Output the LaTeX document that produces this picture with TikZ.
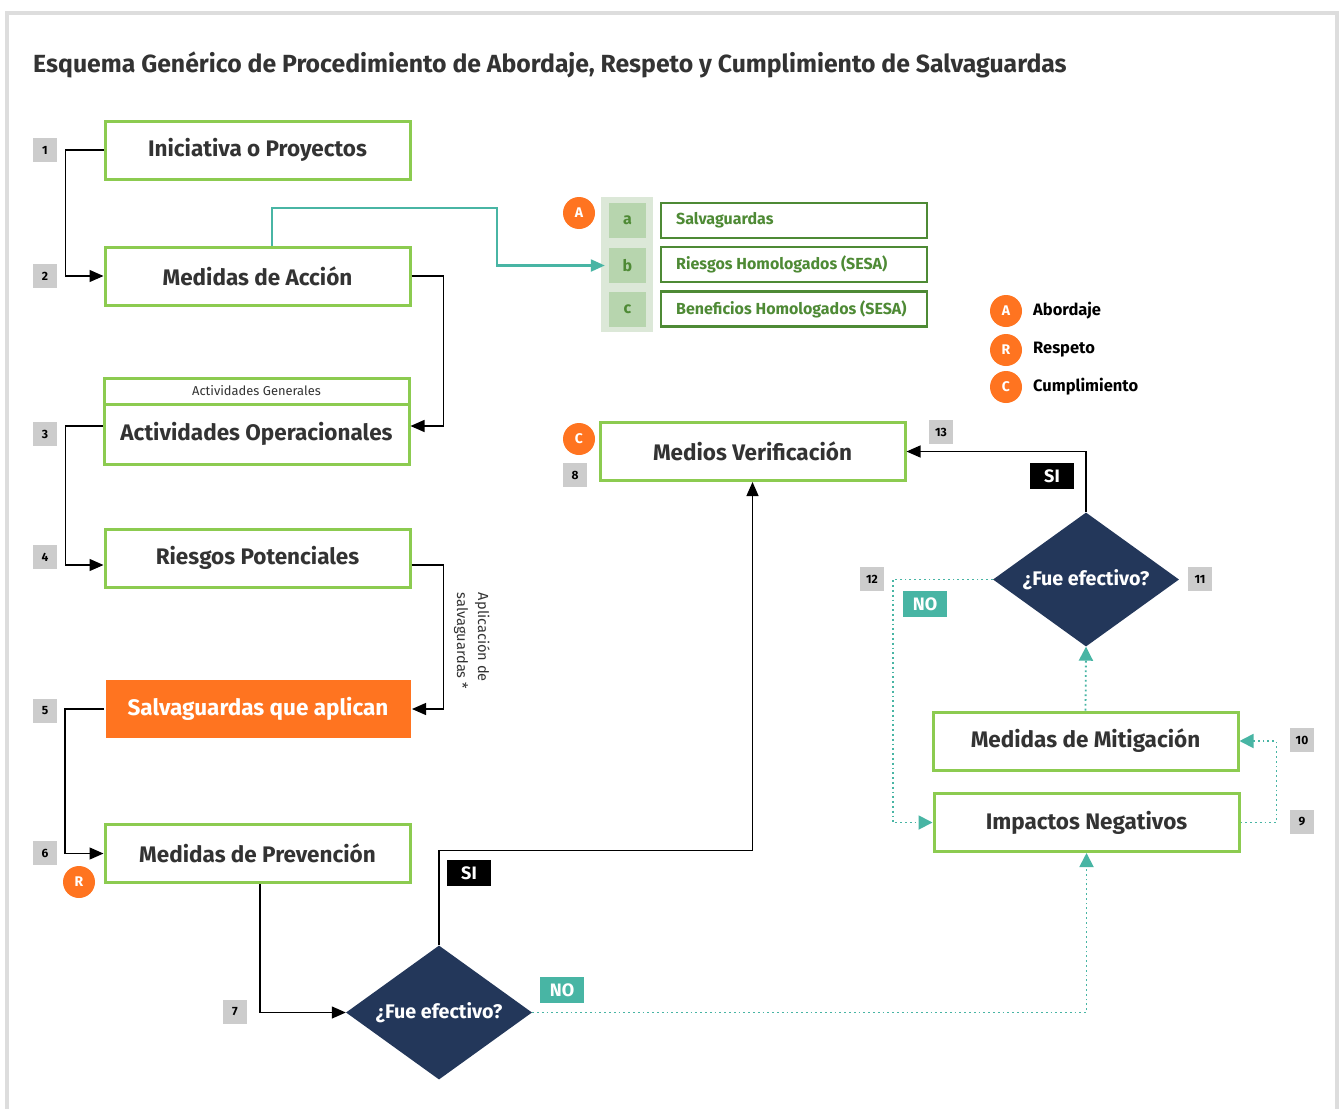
\documentclass[tikz,border=0pt]{standalone}
\usepackage{fontspec}
\setmainfont{Fira Sans}
\usetikzlibrary{arrows.meta,shapes.geometric}
\definecolor{gbox}{HTML}{8CCB50}
\definecolor{dgreen}{HTML}{4E8A35}
\definecolor{panel}{HTML}{DCE8D8}
\definecolor{lsq}{HTML}{B7D5AE}
\definecolor{txt}{HTML}{333333}
\definecolor{orng}{HTML}{FF7420}
\definecolor{navy}{HTML}{23375A}
\definecolor{tealc}{HTML}{48B5A4}
\definecolor{numgray}{HTML}{CCCCCC}
\definecolor{frame}{HTML}{DDDDDD}
\begin{document}
\begin{tikzpicture}[x=1pt,y=-1pt,
  box/.style={draw=gbox,line width=3pt,fill=white,minimum width=305pt,minimum height=58pt,inner sep=0pt,text=txt,font=\fontsize{22.5}{25}\selectfont\bfseries},
  num/.style={fill=numgray,minimum size=24pt,inner sep=0pt,font=\fontsize{12}{13}\selectfont\bfseries},
  circ/.style={circle,fill=orng,minimum size=32pt,inner sep=0pt,text=white,font=\fontsize{14}{14}\selectfont\bfseries},
  dia/.style={diamond,fill=navy,minimum width=186pt,minimum height=134pt,shape aspect=1.39,inner sep=0pt,text=white,font=\fontsize{19.7}{21}\selectfont\bfseries},
  lab/.style={minimum width=44pt,minimum height=26pt,inner sep=0pt,text=white,font=\fontsize{18}{20}\selectfont\bfseries},
  blk/.style={line width=1.3pt,-{Triangle[length=14pt,width=12pt]}},
  tln/.style={draw=tealc,line width=2.2pt,-{Triangle[length=14pt,width=12pt]}},
  dotl/.style={draw=tealc,line width=1.8pt,dash pattern=on 1.8pt off 3pt,-{Triangle[length=14pt,width=14pt]},tealc},
  sqr/.style={fill=lsq,minimum width=37pt,minimum height=35pt,inner sep=0pt,text=dgreen,font=\fontsize{16}{17}\selectfont\bfseries},
  gbx/.style={draw=dgreen,line width=2.5pt,fill=white,minimum width=266pt,minimum height=35pt,inner sep=0pt},
  gtx/.style={anchor=west,inner sep=0pt,text=dgreen,font=\fontsize{16}{17}\selectfont\bfseries},
  leg/.style={anchor=west,inner sep=0pt,font=\fontsize{16.5}{18}\selectfont\bfseries}
]
\useasboundingbox (0,0) rectangle (1340,1108);
\fill[white] (0,0) rectangle (1340,1108);
\draw[frame,line width=4pt] (7,1110) -- (7,13) -- (1337,13) -- (1337,1110);

\node[anchor=base west,inner sep=0pt,text=txt,font=\fontsize{24.8}{28}\selectfont\bfseries] (title) at (33,73) {Esquema Genérico de Procedimiento de Abordaje, Respeto y Cumplimiento de Salvaguardas};

% main boxes
\node[box] (ini) at (257.5,150) {Iniciativa o Proyectos};
\node[box] (acc) at (257.5,276) {Medidas de Acción};
\node[box,minimum height=26pt,font=\fontsize{12.9}{14}\selectfont] (actg) at (256.5,391) {Actividades Generales};
\node[box,minimum height=60pt] (act) at (256.5,434) {\raisebox{5pt}{Actividades Operacionales}};
\node[box] (rie) at (257.5,558) {Riesgos Potenciales};
\node[box,draw=none,fill=orng,text=white] (sal) at (258,709) {Salvaguardas que aplican};
\node[box] (pre) at (257.5,853.5) {Medidas de Prevención};
\node[box] (med) at (752.5,451.5) {Medios Verificación};
\node[box] (mit) at (1085.5,741) {Medidas de Mitigación};
\node[box] (imp) at (1086.5,822.5) {Impactos Negativos};

% diamonds
\node[dia] (d1) at (439,1012.5) {¿Fue efectivo?};
\node[dia] (d2) at (1086,579.5) {¿Fue efectivo?};

% a b c group
\node[fill=panel,minimum width=52pt,minimum height=135pt,inner sep=0pt] (pnl) at (627,264.5) {};
\node[sqr] (la) at (627.5,220.5) {a};
\node[sqr] (lb) at (627.5,265.5) {b};
\node[sqr] (lc) at (627.5,309.5) {c};
\node[gbx] (ga) at (794,220.5) {};
\node[gbx] (gb) at (794,264.5) {};
\node[gbx] (gc) at (794,309) {};
\node[gtx] (ta) at (676,220.5) {Salvaguardas};
\node[gtx] (tb) at (676,264.5) {Riesgos Homologados (SESA)};
\node[gtx] (tc) at (676,309) {Beneficios Homologados (SESA)};

% circles
\node[circ] (cA) at (579,213) {A};
\node[circ] (cR) at (79,882) {R};
\node[circ] (cC) at (579,439) {C};
\node[circ] (lA) at (1006,311) {A};
\node[circ] (lR) at (1006,350) {R};
\node[circ] (lC) at (1006,387) {C};
\node[leg] (tA) at (1033,311) {Abordaje};
\node[leg] (tR) at (1033,350) {Respeto};
\node[leg] (tC) at (1033,387) {Cumplimiento};

% numbers
\node[num] (n1) at (45,150) {1};
\node[num] (n2) at (45,276) {2};
\node[num] (n3) at (45,434) {3};
\node[num] (n4) at (45,557) {4};
\node[num] (n5) at (45,711) {5};
\node[num] (n6) at (45,853) {6};
\node[num] (n7) at (235,1012) {7};
\node[num] (n8) at (575,475) {8};
\node[num] (n9) at (1302,822) {9};
\node[num] (n10) at (1302,740) {10};
\node[num] (n11) at (1200,579) {11};
\node[num] (n12) at (872,579) {12};
\node[num] (n13) at (941,432) {13};

% connectors
\draw[blk] (ini.west) -- ++(-38,0) |- (acc.west);
\draw[blk] (acc.east) -- ++(32,0) |- ([yshift=8pt]act.east);
\draw[blk] ([yshift=8pt]act.west) -- ++(-37,0) |- ([yshift=-7pt]rie.west);
\draw[blk] ([yshift=-7pt]rie.east) -- ++(32,0) |- (sal.east);
\draw[blk] (sal.west) -- ++(-39,0) |- (pre.west);
\draw[blk] ([xshift=2.5pt]pre.south) |- (d1.west);
\draw[blk] (d1.north) -- ++(0,-95) -| (med.south);
\draw[blk] (d2.north) |- (med.east);
\coordinate (tk) at (497,208);
\draw[tln] ([xshift=14.5pt]acc.north) |- (tk) |- ([xshift=-4pt]lb.west);

\draw[dotl] (d1.east) -| (imp.south);
\draw[dotl] (imp.east) -- ++(36,0) |- (mit.east);
\draw[dotl] (mit.north) -- (d2.south);
\draw[dotl] (d2.west) -- ++(-100,0) |- (imp.west);

% labels
\node[lab,fill=black] (si1) at (469,873) {SI};
\node[lab,fill=black] (si2) at (1052,476) {SI};
\node[lab,fill=tealc] (no1) at (562,990) {NO};
\node[lab,fill=tealc] (no2) at (925,604) {NO};

\node[rotate=-90,align=left,inner sep=0pt,text=txt,font=\fontsize{14.6}{21}\selectfont] (apl) at (472,641) {Aplicación de\\salvaguardas *};
\end{tikzpicture}
\end{document}
